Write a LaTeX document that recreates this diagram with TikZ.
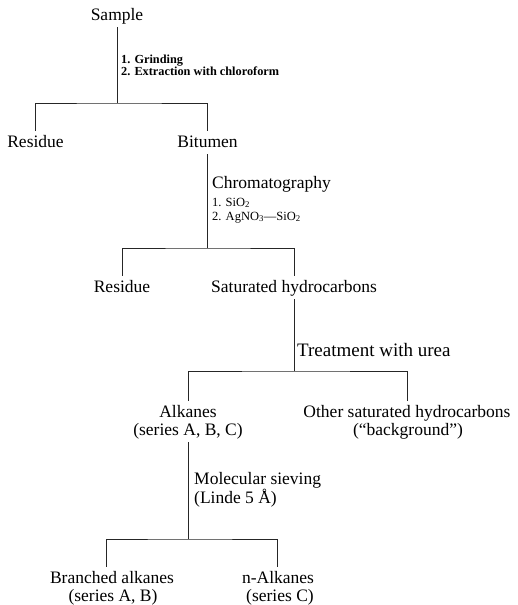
\documentclass[tikz,border=0pt]{standalone}
\usepackage{fontspec}
\setmainfont{Liberation Serif}
\begin{document}
\begin{tikzpicture}[x=1pt,y=-1pt,
  tn/.style={font=\fontsize{17.5}{21}\selectfont, anchor=base, inner sep=3pt, text height=13pt, text depth=4pt},
  lab/.style={font=\fontsize{17.5}{21}\selectfont, anchor=base west, inner sep=0pt},
  smb/.style={font=\bfseries\fontsize{12.3}{14}\selectfont, anchor=base west, inner sep=0pt},
  sm/.style={font=\fontsize{12.5}{14}\selectfont, anchor=base west, inner sep=0pt},
  ln/.style={line width=0.9pt, draw=black!85}]
\useasboundingbox (0,0) rectangle (518,605);
% tree nodes
\node[tn] (sample) at (117,20) {Sample};
\node[tn] (res1) at (35.5,147) {Residue};
\node[tn] (bit) at (207.5,147) {Bitumen};
\node[tn] (res2) at (122,292) {Residue};
\node[tn] (sat) at (294,292) {Saturated hydrocarbons};
\node[tn] (alk) at (188,417) {Alkanes};
\node[tn] (alks) at (188,435) {(series A, B, C)};
\node[tn] (oth) at (407,417) {Other saturated hydrocarbons};
\node[tn] (oths) at (408,435) {(“background”)};
\node[tn] (br) at (112,583) {Branched alkanes};
\node[tn] (brs) at (113,601) {(series A, B)};
\node[tn] (nalk) at (278,583) {n-Alkanes};
\node[tn] (nalks) at (280,601) {(series C)};
% step labels
\node[smb] (g1) at (121,63) {1. Grinding};
\node[smb] (g2) at (121,75.5) {2. Extraction with chloroform};
\node[lab] (chr) at (212,188) {Chromatography};
\node[sm] (s1) at (212,206) {1. SiO\textsubscript{2}};
\node[sm] (s2) at (212,220) {2. AgNO\textsubscript{3}—SiO\textsubscript{2}};
\node[lab, font=\fontsize{19}{22}\selectfont] (urea) at (297,356) {Treatment with urea};
\node[lab] (mol) at (194,484) {Molecular sieving};
\node[lab] (lin) at (194,503) {(Linde 5 Å)};
% junctions
\coordinate (j1) at (117,103);
\coordinate (j2) at (207.5,248);
\coordinate (j3) at (294,371);
\coordinate (j4) at (188,539);
% connectors
\draw[ln] (sample.south) -- (j1);
\draw[ln] (res1.north) |- (j1) -| (bit.north);
\draw[ln] (bit.south) -- (j2);
\draw[ln] (res2.north) |- (j2) -| (sat.north);
\draw[ln] (sat.south) -- (j3);
\draw[ln] (alk.north) |- (j3) -| (oth.north);
\draw[ln] (alks.south) -- (j4);
\draw[ln] ([xshift=-6pt]br.north) |- (j4) -| ([xshift=-1pt]nalk.north);
\end{tikzpicture}
\end{document}
